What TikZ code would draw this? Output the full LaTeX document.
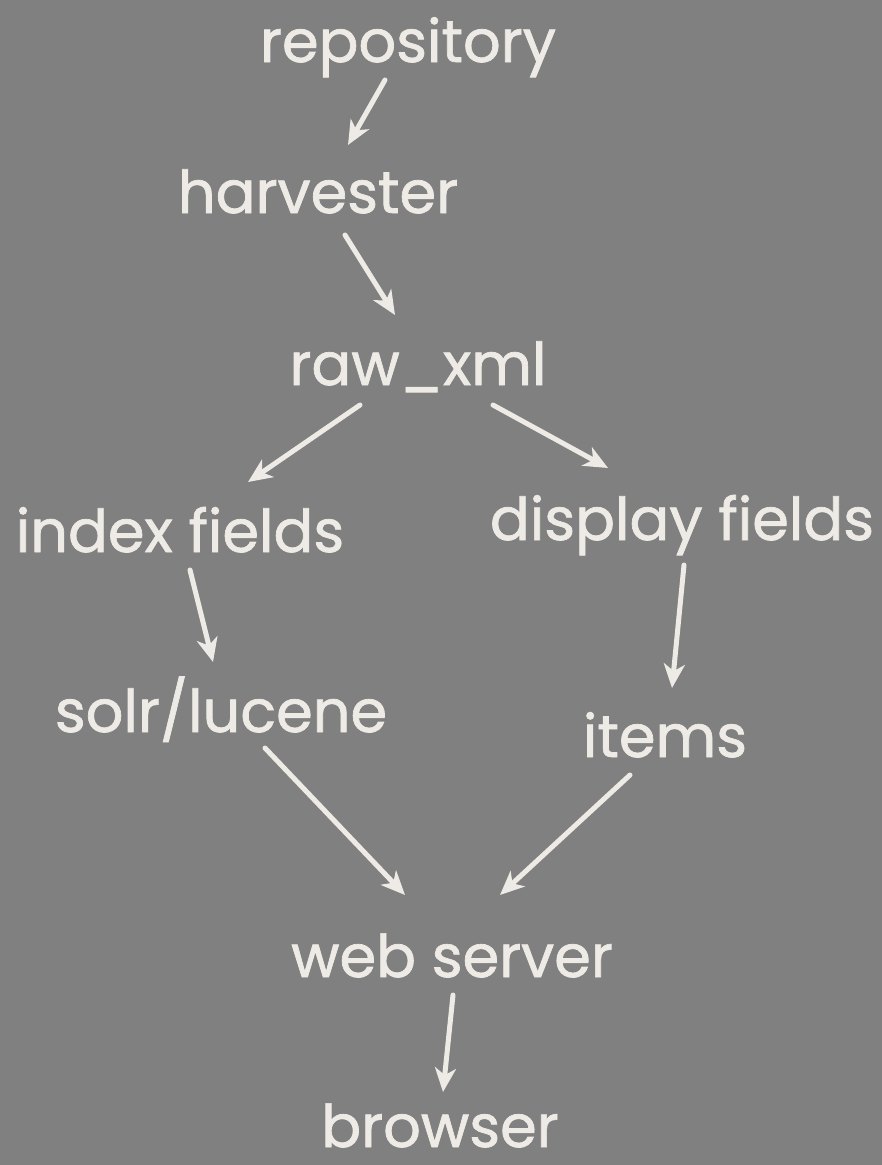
\documentclass[tikz,border=0pt]{standalone}
\usepackage{fontspec}
\newfontfamily\chalkfont[FakeBold=1.2]{Poppins}
\usetikzlibrary{arrows.meta,calc}
\definecolor{bg}{HTML}{808080}
\definecolor{chalk}{HTML}{EEEBE6}
\begin{document}
\begin{tikzpicture}[x=1pt,y=-1pt,
  lbl/.style={text=chalk,font=\chalkfont\fontsize{59}{66}\selectfont,inner sep=0pt,anchor=base},
  arr/.style={draw=chalk,line width=5pt,line cap=round,-{Stealth[length=24pt,width=21pt,inset=7pt]}}]
\fill[bg] (0,0) rectangle (882,1165);
\useasboundingbox (0,0) rectangle (882,1165);
\node[lbl] (rep) at (408,62) {repository};
\node[lbl] (harv) at (318,213) {harvester};
\node[lbl] (raw) at (418,385) {raw\_xml};
\node[lbl] (idx) at (180,552) {index fields};
\node[lbl] (disp) at (682,540) {display fields};
\node[lbl] (solr) at (221,732) {solr/lucene};
\node[lbl] (items) at (665,757) {items};
\node[lbl] (web) at (452,977) {web server};
\node[lbl] (brow) at (440,1147) {browser};
\draw[arr] ([shift={(-23,18)}]rep.base) -- ([shift={(30,-68)}]harv.base);
\draw[arr] ([shift={(27,22)}]harv.base) -- ([shift={(-23,-70)}]raw.base);
\draw[arr] ([shift={(-58,20)}]raw.base) -- ([shift={(68,-70)}]idx.base);
\draw[arr] ([shift={(75,20)}]raw.base) -- ([shift={(-74,-72)}]disp.base);
\draw[arr] ([shift={(10,18)}]idx.base) -- ([shift={(-8,-70)}]solr.base);
\draw[arr] ([shift={(2,25)}]disp.base) -- ([shift={(7,-69)}]items.base);
\draw[arr] ([shift={(44,16)}]solr.base) -- ([shift={(-47,-82)}]web.base);
\draw[arr] ([shift={(-35,18)}]items.base) -- ([shift={(48,-82)}]web.base);
\draw[arr] ([shift={(1,18)}]web.base) -- ([shift={(3,-55)}]brow.base);
\end{tikzpicture}
\end{document}
